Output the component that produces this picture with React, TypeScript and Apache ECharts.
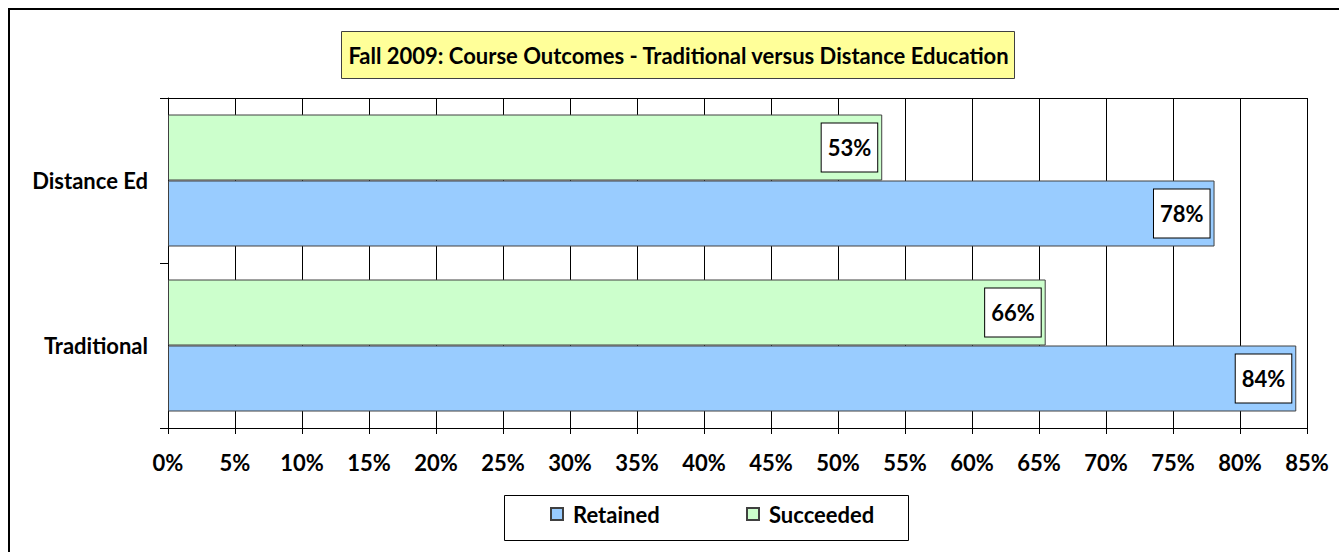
import React, { useEffect, useRef } from "react";
import * as echarts from "echarts";

const categories = ["Traditional", "Distance Ed"];
const seriesNames = ["Retained", "Succeeded"];
const retained = [84.2, 78.1];
const succeeded = [65.5, 53.3];
const xMin = 0;
const xMax = 85;
const xInterval = 5;
const titleText = "Fall 2009: Course Outcomes - Traditional versus Distance Education";

const FONT = "Lato";
const FS = 22;

export default function App() {
  const ref = useRef<HTMLDivElement>(null);
  useEffect(() => {
    if (!ref.current) return;
    const chart = echarts.init(ref.current, undefined, { renderer: "svg" });
    const labelStyle = {
      show: true,
      position: "insideRight",
      distance: 5,
      formatter: (p: any) => Math.round(p.value) + "%",
      color: "#000",
      fontFamily: FONT,
      fontWeight: "bold",
      fontSize: FS,
      lineHeight: 24,
      backgroundColor: "#fff",
      borderColor: "#000",
      borderWidth: 1,
      padding: [12, 6, 12, 6],
    };
    const legendText = {
      color: "#000",
      fontFamily: FONT,
      fontWeight: "bold",
      fontSize: FS,
      lineHeight: 24,
      padding: [0, 0, 0, 5],
    };
    const option: any = {
      animation: false,
      backgroundColor: "#fff",
      grid: { left: 168, right: 32, top: 98, bottom: 124, containLabel: false },
      xAxis: [
        {
          type: "value",
          position: "bottom",
          min: xMin,
          max: xMax,
          interval: xInterval,
          axisLine: { show: true, lineStyle: { color: "#000", width: 1 } },
          axisTick: { show: true, length: 6, lineStyle: { color: "#000" } },
          axisLabel: {
            formatter: "{value}%",
            color: "#000",
            fontFamily: FONT,
            fontWeight: "bold",
            fontSize: FS,
            margin: 23,
          },
          splitLine: { show: true, lineStyle: { color: "#000", width: 1 } },
        },
        {
          type: "value",
          position: "top",
          min: xMin,
          max: xMax,
          interval: xInterval,
          axisLine: { show: true, lineStyle: { color: "#000", width: 1 } },
          axisTick: { show: false },
          axisLabel: { show: false },
          splitLine: { show: false },
        },
      ],
      yAxis: {
        type: "category",
        data: categories,
        axisLine: { show: true, lineStyle: { color: "#000", width: 1 } },
        axisTick: { show: true, length: 8, lineStyle: { color: "#000" } },
        axisLabel: {
          color: "#000",
          fontFamily: FONT,
          fontWeight: "bold",
          fontSize: FS,
          margin: 20,
        },
      },
      legend: [
        {
          data: [seriesNames[0]],
          left: 550,
          top: 502,
          padding: 0,
          icon: "rect",
          itemWidth: 12,
          itemHeight: 12,
          selectedMode: false,
          textStyle: legendText,
        },
        {
          data: [seriesNames[1]],
          left: 746,
          top: 502,
          padding: 0,
          icon: "rect",
          itemWidth: 12,
          itemHeight: 12,
          selectedMode: false,
          textStyle: legendText,
        },
      ],
      graphic: [
        {
          type: "rect",
          z: -10,
          shape: { x: 9, y: 9, width: 1400, height: 600 },
          style: { fill: "none", stroke: "#000", lineWidth: 2 },
        },
        {
          type: "rect",
          z: 100,
          shape: { x: 341.5, y: 31.5, width: 673, height: 47 },
          style: { fill: "#FFFF99", stroke: "#404040", lineWidth: 1 },
        },
        {
          type: "text",
          z: 101,
          x: 678.5,
          y: 55,
          style: {
            text: titleText,
            fill: "#000",
            font: `bold ${FS}px ${FONT}`,
            textAlign: "center",
            textVerticalAlign: "middle",
          },
        },
        {
          type: "rect",
          z: -5,
          shape: { x: 504.5, y: 495.5, width: 404, height: 45 },
          style: { fill: "#fff", stroke: "#000", lineWidth: 1 },
        },
      ],
      series: [
        {
          name: seriesNames[1],
          type: "bar",
          data: succeeded,
          barGap: "0%",
          barCategoryGap: "20%",
          itemStyle: { color: "#CCFFCC", borderColor: "#404040", borderWidth: 1 },
          label: labelStyle,
        },
        {
          name: seriesNames[0],
          type: "bar",
          data: retained,
          barGap: "0%",
          barCategoryGap: "20%",
          itemStyle: { color: "#99CCFF", borderColor: "#404040", borderWidth: 1 },
          label: labelStyle,
        },
      ],
    };
    chart.setOption(option);
    return () => chart.dispose();
  }, []);
  return (
    <div
      ref={ref}
      style={{ position: "fixed", left: 0, top: 0, width: 1339, height: 552 }}
    />
  );
}
